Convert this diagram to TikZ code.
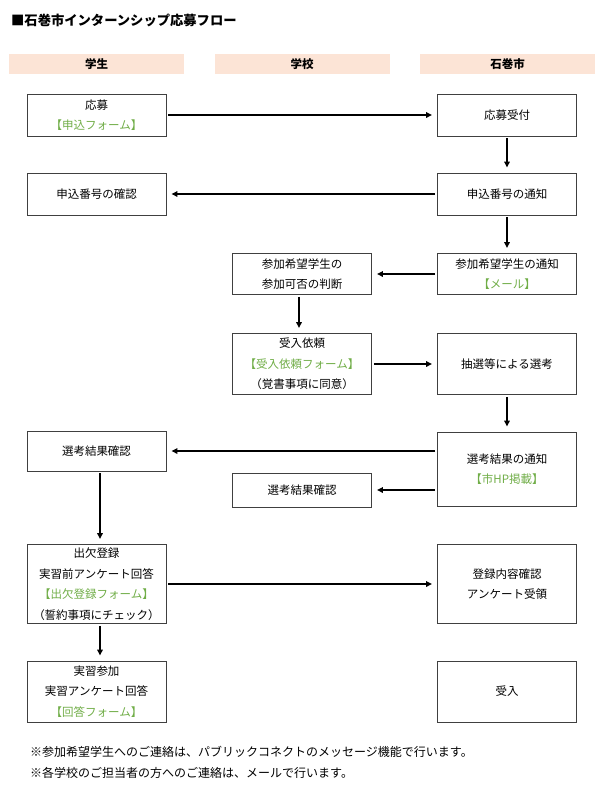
\documentclass[tikz,border=0pt]{standalone}
\usepackage{fontspec}
\setmainfont{Noto Sans CJK JP}
\usetikzlibrary{arrows.meta}
\definecolor{hdr}{HTML}{FCE4D6}
\definecolor{frm}{HTML}{70AD47}
\definecolor{edge}{HTML}{404040}
\newcommand{\form}[1]{\textcolor{frm}{#1}}

\begin{document}
\begin{tikzpicture}[x=1pt, y=-1pt,
  box/.style={draw=edge, line width=0.9pt, minimum width=139pt, align=center, inner sep=0pt,
    font=\fontsize{11.5pt}{20.5pt}\selectfont},
  head/.style={fill=hdr, minimum width=175pt, minimum height=20pt, inner sep=0pt,
    font=\fontsize{11.5pt}{14pt}\selectfont\bfseries},
  arr/.style={-{Triangle[length=6pt,width=5.5pt]}, line width=1.6pt, shorten <=2pt, shorten >=5pt},
  note/.style={anchor=west, inner sep=0pt, font=\fontsize{12pt}{14pt}\selectfont}]
\useasboundingbox (0,0) rectangle (606,796);

\node[anchor=west, inner sep=0pt, font=\fontsize{13.3pt}{15pt}\selectfont\bfseries] (title) at (11,20) {■石巻市インターンシップ応募フロー};

% lanes
\node[head] (hstu) at (96.5,64) {学生};
\node[head] (hsch) at (302,64) {学校};
\node[head] (hcity) at (507.5,64) {石巻市};

% boxes
\node[box, minimum height=42pt] (app) at (96.5,115) {応募\\\form{【申込フォーム】}};
\node[box, minimum height=42pt] (recv) at (507,115) {応募受付};
\node[box, minimum height=42pt] (chkno) at (96.5,194) {申込番号の確認};
\node[box, minimum height=42pt] (notino) at (507,194) {申込番号の通知};
\node[box, minimum height=41pt] (judge) at (302,274) {参加希望学生の\\参加可否の判断};
\node[box, minimum height=41pt] (notistu) at (507,274) {参加希望学生の通知\\\form{【メール】}};
\node[box, minimum height=61pt] (req) at (302,364) {受入依頼\\\form{【受入依頼フォーム】}\\（覚書事項に同意）};
\node[box, minimum height=61pt] (sel) at (507,364) {抽選等による選考};
\node[box, minimum height=40pt] (reschk) at (96.5,451) {選考結果確認};
\node[box, minimum height=74pt] (resnoti) at (507,469) {選考結果の通知\\\form{【市HP掲載】}};
\node[box, minimum height=34pt] (reschkb) at (302,490) {選考結果確認};
\node[box, minimum height=79pt] (att) at (96.5,584) {出欠登録\\実習前アンケート回答\\\form{【出欠登録フォーム】}\\（誓約事項にチェック）};
\node[box, minimum height=79pt] (regchk) at (507,584) {登録内容確認\\アンケート受領};
\node[box, minimum height=61pt] (part) at (96.5,691.5) {実習参加\\実習アンケート回答\\\form{【回答フォーム】}};
\node[box, minimum height=61pt] (accept) at (507,691.5) {受入};

% flow
\draw[arr] (app) -- (recv);
\draw[arr] (recv) -- (notino);
\draw[arr] (notino) -- (chkno);
\draw[arr] (notino) -- (notistu);
\draw[arr] (notistu) -- (judge);
\draw[arr] ([xshift=-3pt]judge.south) -- ([xshift=-3pt]req.north);
\draw[arr] (req) -- (sel);
\draw[arr] (sel) -- (resnoti);
\draw[arr] (resnoti.west |- reschk) -- (reschk);
\draw[arr] (resnoti.west |- reschkb) -- (reschkb);
\draw[arr] ([xshift=3.5pt]reschk.south) -- ([xshift=3.5pt]att.north);
\draw[arr] (att) -- (regchk);
\draw[arr] ([xshift=3.5pt]att.south) -- ([xshift=3.5pt]part.north);

\node[note] (n1) at (30,752) {※参加希望学生へのご連絡は、パブリックコネクトのメッセージ機能で行います。};
\node[note] (n2) at (30,773) {※各学校のご担当者の方へのご連絡は、メールで行います。};
\end{tikzpicture}
\end{document}
